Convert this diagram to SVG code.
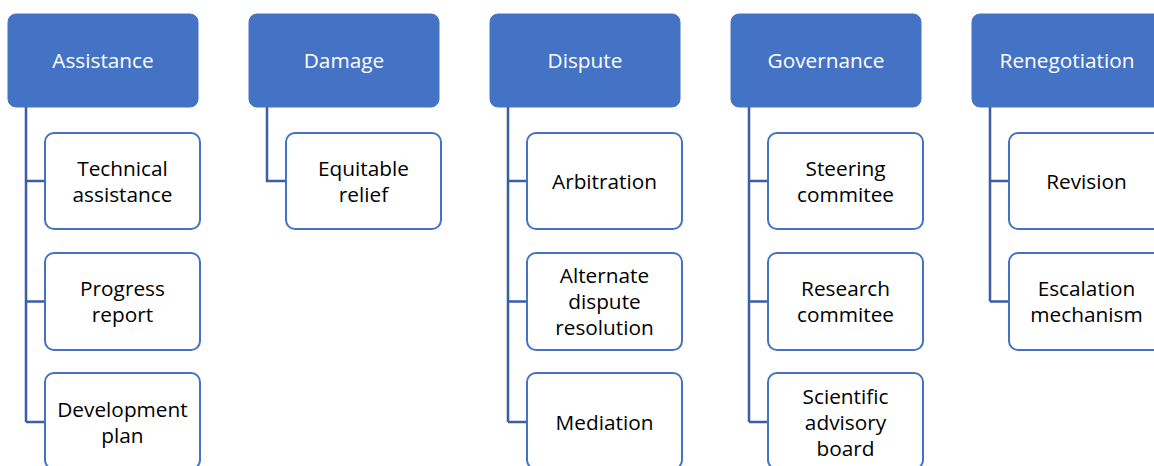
<svg xmlns="http://www.w3.org/2000/svg" width="1154" height="466" viewBox="0 0 1154 466">
<style>
.hdr{fill:#4472C4;stroke:#4472C4;stroke-width:1}
.box{fill:#FFFFFF;stroke:#4472C4;stroke-width:2}
.ht{font-family:"Open Sans","Liberation Sans",sans-serif;font-size:20.8px;fill:#FFFFFF;text-anchor:middle}
.ct{font-family:"Open Sans","Liberation Sans",sans-serif;font-size:20.8px;fill:#000000;text-anchor:middle}
.ln{fill:none;stroke:#3A5DA8;stroke-width:2.5}
</style>
<rect width="1154" height="466" fill="#FFFFFF"/>
<g id="connectors">
<path class="ln" d="M26 107V422M26 181H45M26 301.5H45M26 422H45"/>
<path class="ln" d="M267 107V181H286"/>
<path class="ln" d="M508 107V422M508 181H527M508 301.5H527M508 422H527"/>
<path class="ln" d="M749 107V422M749 181H768M749 301.5H768M749 422H768"/>
<path class="ln" d="M990 107V301.5M990 181H1009M990 301.5H1009"/>
</g>
<g id="assistance"><rect class="hdr" x="8" y="14" width="190" height="93" rx="8"/><text class="ht" x="103" y="68">Assistance</text></g>
<g id="technical-assistance"><rect class="box" x="45" y="133" width="155" height="96" rx="9"/><text class="ct" x="122.5" y="175.5">Technical</text><text class="ct" x="122.5" y="201.5">assistance</text></g>
<g id="progress-report"><rect class="box" x="45" y="253" width="155" height="97" rx="9"/><text class="ct" x="122.5" y="296">Progress</text><text class="ct" x="122.5" y="322">report</text></g>
<g id="development-plan"><rect class="box" x="45" y="373" width="155" height="96" rx="9"/><text class="ct" x="122.5" y="416.5">Development</text><text class="ct" x="122.5" y="442.5">plan</text></g>

<g id="damage"><rect class="hdr" x="249" y="14" width="190" height="93" rx="8"/><text class="ht" x="344" y="68">Damage</text></g>
<g id="equitable-relief"><rect class="box" x="286" y="133" width="155" height="96" rx="9"/><text class="ct" x="363.5" y="175.5">Equitable</text><text class="ct" x="363.5" y="201.5">relief</text></g>

<g id="dispute"><rect class="hdr" x="490" y="14" width="190" height="93" rx="8"/><text class="ht" x="585" y="68">Dispute</text></g>
<g id="arbitration"><rect class="box" x="527" y="133" width="155" height="96" rx="9"/><text class="ct" x="604.5" y="188.5">Arbitration</text></g>
<g id="alternate-dispute-resolution"><rect class="box" x="527" y="253" width="155" height="97" rx="9"/><text class="ct" x="604.5" y="283">Alternate</text><text class="ct" x="604.5" y="309">dispute</text><text class="ct" x="604.5" y="335">resolution</text></g>
<g id="mediation"><rect class="box" x="527" y="373" width="155" height="96" rx="9"/><text class="ct" x="604.5" y="429.5">Mediation</text></g>

<g id="governance"><rect class="hdr" x="731" y="14" width="190" height="93" rx="8"/><text class="ht" x="826" y="68">Governance</text></g>
<g id="steering-commitee"><rect class="box" x="768" y="133" width="155" height="96" rx="9"/><text class="ct" x="845.5" y="175.5">Steering</text><text class="ct" x="845.5" y="201.5">commitee</text></g>
<g id="research-commitee"><rect class="box" x="768" y="253" width="155" height="97" rx="9"/><text class="ct" x="845.5" y="296">Research</text><text class="ct" x="845.5" y="322">commitee</text></g>
<g id="scientific-advisory-board"><rect class="box" x="768" y="373" width="155" height="96" rx="9"/><text class="ct" x="845.5" y="403.5">Scientific</text><text class="ct" x="845.5" y="429.5">advisory</text><text class="ct" x="845.5" y="455.5">board</text></g>

<g id="renegotiation"><rect class="hdr" x="972" y="14" width="190" height="93" rx="8"/><text class="ht" x="1067" y="68">Renegotiation</text></g>
<g id="revision"><rect class="box" x="1009" y="133" width="155" height="96" rx="9"/><text class="ct" x="1086.5" y="188.5">Revision</text></g>
<g id="escalation-mechanism"><rect class="box" x="1009" y="253" width="155" height="97" rx="9"/><text class="ct" x="1086.5" y="296">Escalation</text><text class="ct" x="1086.5" y="322">mechanism</text></g>
</svg>
